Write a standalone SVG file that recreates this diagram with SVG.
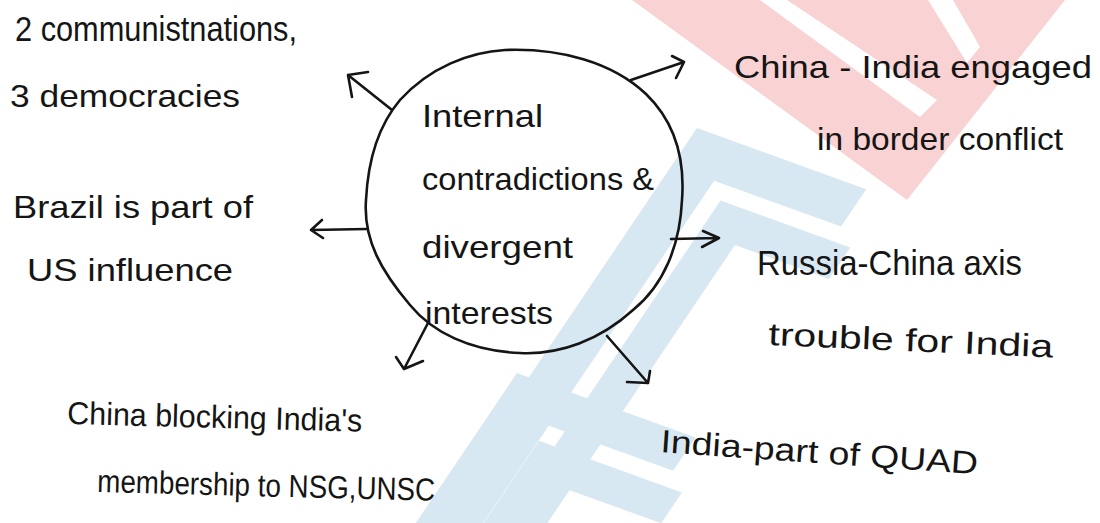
<svg xmlns="http://www.w3.org/2000/svg" width="1100" height="523" viewBox="0 0 1100 523">
  <style>
    .hand { font-family: "Liberation Sans", "DejaVu Sans", sans-serif; font-size: 32px; fill: #151515; }
    .big { font-size: 35px; }
    .ink { fill: none; stroke: #151515; stroke-width: 2.6; stroke-linecap: round; stroke-linejoin: round; }
    .wm-pink { fill: #f9d3d3; }
    .wm-blue { fill: #d7e8f3; }
    .gap { fill: #ffffff; }
  </style>

  <!-- paper -->
  <rect x="0" y="0" width="1100" height="523" fill="#ffffff"/>

  <!-- faint background watermark -->
  <g id="watermark">
    <polygon class="wm-pink" points="632,0 1065,0 907,200"/>
    <polygon class="gap" points="760,0 787,0 937,100 920,117"/>
    <polygon class="gap" points="928,0 953,0 980,47 967,63"/>
    <!-- nested chevrons, drawn in a sheared frame that follows the stripe directions -->
    <g transform="matrix(0.94 0.34 -0.56 0.83 697 128)">
      <polygon class="wm-blue" points="0,0 180,0 180,45 45,45 45,480 0,480"/>
      <polygon class="wm-blue" points="62,62 200,62 200,100 100,100 100,480 62,480"/>
    </g>
    <g transform="matrix(0.94 0.34 -0.56 0.83 517 373)">
      <polygon class="wm-blue" points="0,0 190,0 190,40 40,40 40,200 0,200"/>
      <polygon class="wm-blue" points="58,58 210,58 210,95 95,95 95,200 58,200"/>
    </g>
  </g>

  <!-- connectors: hand-drawn arrows radiating from the central bubble -->
  <g id="connectors">
    <path class="ink" d="M392,110 L348,75 M348,75 L368,72 M348,75 L352,97"/>
    <path class="ink" d="M631,80 L684,62 M684,62 L672,56 M684,62 L676,78"/>
    <path class="ink" d="M367,229 L311,230 M311,230 L322,220 M311,230 L323,238"/>
    <path class="ink" d="M671,239 L719,238 M719,238 L703,231 M719,238 L702,247"/>
    <path class="ink" d="M428,323 L404,369 M404,369 L396,357 M404,369 L423,361"/>
    <path class="ink" d="M607,336 L648,383 M648,383 L627,382 M648,383 L650,371"/>
  </g>

  <!-- central bubble -->
  <g id="node-center">
    <path class="ink" d="M505,50 C560,48 612,62 646,94 C675,122 685,160 682,200 C680,245 664,285 633,310 C600,340 560,355 520,353 C470,351 432,332 410,305 C382,272 363,240 366,200 C368,160 378,126 400,100 C430,67 470,52 505,50 Z"/>
    <text class="hand" x="422" y="127" textLength="121" lengthAdjust="spacingAndGlyphs">Internal</text>
    <text class="hand" x="422" y="190" textLength="232" lengthAdjust="spacingAndGlyphs">contradictions &amp;</text>
    <text class="hand" x="422" y="258" textLength="151" lengthAdjust="spacingAndGlyphs">divergent</text>
    <text class="hand" x="425" y="324" textLength="128" lengthAdjust="spacingAndGlyphs">interests</text>
  </g>

  <g id="node-communist">
    <text class="hand big" x="15" y="41" textLength="282" lengthAdjust="spacingAndGlyphs">2 communistnations,</text>
    <text class="hand" x="10" y="107" textLength="230" lengthAdjust="spacingAndGlyphs">3 democracies</text>
  </g>

  <g id="node-border">
    <text class="hand" x="734" y="78" textLength="358" lengthAdjust="spacingAndGlyphs">China - India engaged</text>
    <text class="hand" x="817" y="150" textLength="246" lengthAdjust="spacingAndGlyphs">in border conflict</text>
  </g>

  <g id="node-brazil">
    <text class="hand" x="13" y="218" textLength="240" lengthAdjust="spacingAndGlyphs">Brazil is part of</text>
    <text class="hand" x="27" y="281" textLength="206" lengthAdjust="spacingAndGlyphs">US influence</text>
  </g>

  <g id="node-russia">
    <text class="hand big" x="757" y="275" textLength="265" lengthAdjust="spacingAndGlyphs">Russia-China axis</text>
    <text class="hand" x="768" y="345" textLength="285" lengthAdjust="spacingAndGlyphs" transform="rotate(2.5 768 345)">trouble for India</text>
  </g>

  <g id="node-blocking">
    <text class="hand" x="67" y="424" textLength="295" lengthAdjust="spacingAndGlyphs" transform="rotate(1.5 67 424)">China blocking India's</text>
    <text class="hand" x="97" y="492" textLength="338" lengthAdjust="spacingAndGlyphs" transform="rotate(1.5 97 492)">membership to NSG,UNSC</text>
  </g>

  <g id="node-quad">
    <text class="hand" x="660" y="452" textLength="318" lengthAdjust="spacingAndGlyphs" transform="rotate(4 660 452)">India-part of QUAD</text>
  </g>
</svg>
